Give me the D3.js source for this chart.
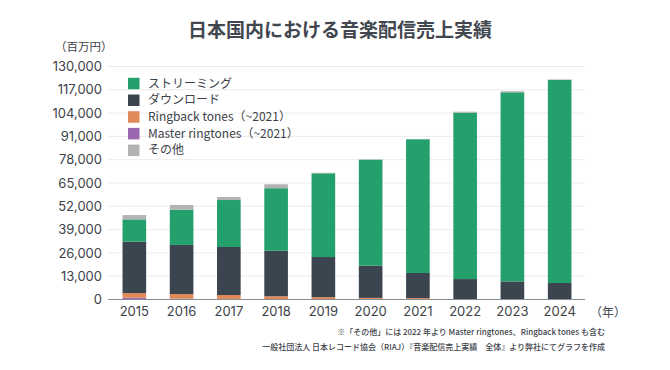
<!DOCTYPE html>
<html><head><meta charset="utf-8">
<script src="https://cdn.jsdelivr.net/npm/d3@7"></script>
<style>
html,body{margin:0;padding:0;background:#fff;}
svg{display:block;font-family:"Noto Sans CJK JP","Noto Sans",sans-serif;}
</style></head>
<body><svg id="c" width="670" height="370"></svg>
<script>
const years = ["2015","2016","2017","2018","2019","2020","2021","2022","2023","2024"];
const streaming = [12.4, 19.7, 26.2, 34.9, 46.7, 59.1, 74.6, 92.8, 105.5, 113.3];
const download  = [28.7, 27.4, 26.8, 25.4, 22.4, 18.0, 14.0, 11.4, 10.1, 9.2];
const ringback  = [2.6, 2.6, 2.2, 1.6, 1.15, 0.8, 0.7, 0, 0, 0];
const master    = [1.0, 0.45, 0.3, 0.2, 0.15, 0.1, 0.1, 0, 0, 0];
const other     = [2.4, 2.6, 1.7, 2.2, 0.3, 0.2, 0.2, 0.6, 0.6, 0.3];
const yTicks = [0,13000,26000,39000,52000,65000,78000,91000,104000,117000,130000];
const seriesNames = ["ストリーミング","ダウンロード","Ringback tones（~2021）","Master ringtones（~2021）","その他"];
const seriesKeys = ["master","ringback","download","streaming","other"];
const colors = {streaming:"#23a06c", download:"#3a4550", ringback:"#e08a5a", master:"#9b67b0", other:"#b3b3b3"};
const legendKeys = ["streaming","download","ringback","master","other"];

const rows = years.map((y,i)=>({year:y, streaming:streaming[i]*1000, download:download[i]*1000,
  ringback:ringback[i]*1000, master:master[i]*1000, other:other[i]*1000}));

const svg = d3.select("#c");
const L=108, R=585, T=66.5, B=299.5;
const x = d3.scaleBand().domain(years).range([110.7,583.3]).paddingInner(0.5).paddingOuter(0.25);
const y = d3.scaleLinear().domain([0,130000]).range([B,T]);

// title
svg.append("text").attr("x",340).attr("y",37).attr("text-anchor","middle")
  .attr("font-size",19).attr("font-weight",700).attr("fill","#42474f").text("日本国内における音楽配信売上実績");
svg.append("text").attr("x",55).attr("y",51).attr("font-size",11.5).attr("fill","#3d4249").text("（百万円）");

// grid
svg.append("g").selectAll("line").data(yTicks.slice(1)).join("line")
  .attr("x1",L).attr("x2",R).attr("y1",d=>y(d)).attr("y2",d=>y(d))
  .attr("stroke","#ececec").attr("stroke-width",1);

// y axis labels
const ya = svg.append("g").attr("transform",`translate(${L},0)`)
  .call(d3.axisLeft(y).tickValues(yTicks).tickSize(0).tickPadding(6).tickFormat(d3.format(",")));
ya.select(".domain").remove();
ya.selectAll("text").attr("font-size",13).attr("fill","#3d4249").attr("font-family","Inter,'Noto Sans',sans-serif");

// stacks
const stack = d3.stack().keys(seriesKeys)(rows);
svg.append("g").selectAll("g").data(stack).join("g").attr("fill",d=>colors[d.key])
  .selectAll("rect").data(d=>d).join("rect")
  .attr("x",d=>x(d.data.year)).attr("width",x.bandwidth())
  .attr("y",d=>y(d[1])).attr("height",d=>Math.max(0,y(d[0])-y(d[1])));

// x axis
const xa = svg.append("g").attr("transform",`translate(0,${B})`)
  .call(d3.axisBottom(x).tickSize(0).tickPadding(7));
xa.select(".domain").attr("stroke","#8a8f96").attr("stroke-width",1.2).attr("d",`M${L},0H${R}`);
xa.selectAll("text").attr("font-size",13).attr("fill","#3d4249").attr("font-family","Inter,'Noto Sans',sans-serif");
svg.append("text").attr("x",590).attr("y",317).attr("font-size",12).attr("fill","#3d4249").text("（年）");

// legend
const lg = svg.append("g").selectAll("g").data(legendKeys).join("g")
  .attr("transform",(d,i)=>`translate(128,${83.3+i*16.7})`);
lg.append("rect").attr("x",0).attr("y",-5.5).attr("width",11.5).attr("height",11.5).attr("fill",d=>colors[d]);
lg.append("text").attr("x",20).attr("y",0).attr("dy","0.35em").attr("font-size",12).attr("fill","#3d4249")
  .text((d,i)=>seriesNames[i]);

// footnotes
svg.append("text").attr("x",605).attr("y",335).attr("text-anchor","end").attr("font-size",8).attr("font-weight",500)
  .attr("fill","#3d4249").text("※「その他」には 2022 年より Master ringtones、Ringback tones も含む");
svg.append("text").attr("x",605).attr("y",350).attr("text-anchor","end").attr("font-size",8).attr("font-weight",500)
  .attr("fill","#3d4249").text("一般社団法人 日本レコード協会（RIAJ）『音楽配信売上実績　全体』より弊社にてグラフを作成");
</script></body></html>
